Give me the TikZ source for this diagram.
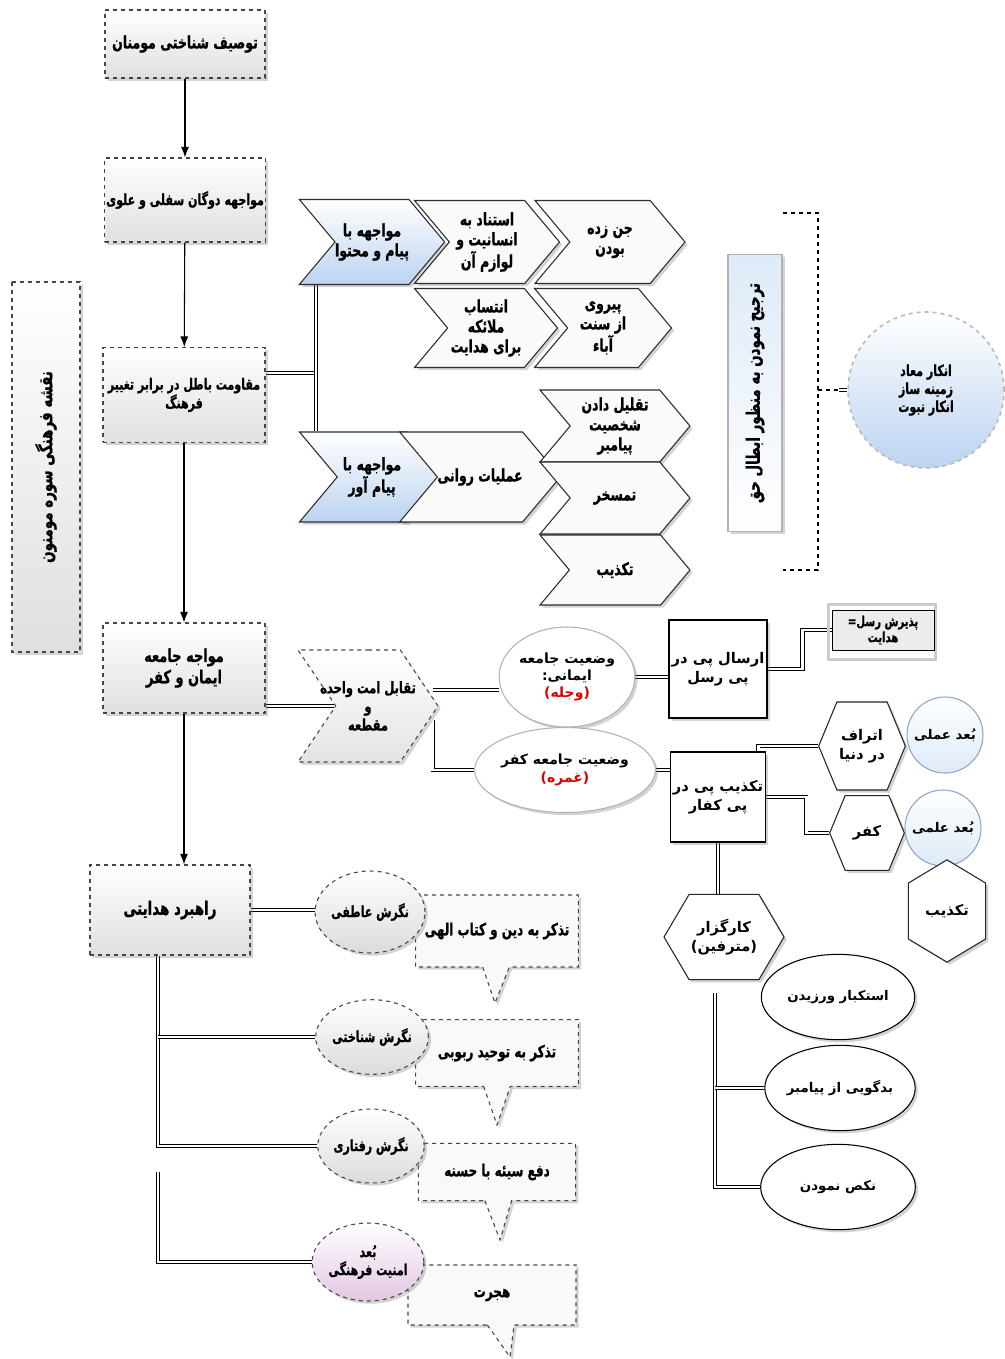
\documentclass[tikz,border=0pt]{standalone}
\usepackage{fontspec}
\newfontfamily\fa[Script=Arabic,FakeStretch=0.72,FakeBold=0.8]{DejaVu Sans}
\newfontfamily\fb[Script=Arabic]{DejaVu Sans}
\TeXXeTstate=1
\usetikzlibrary{shapes.geometric,shapes.symbols,shapes.callouts,shadows,calc,backgrounds,arrows.meta}
\newcommand\RL[1]{\beginR #1\endR}
\newcommand\fz[1]{\fontsize{#1}{#1}\selectfont}
\definecolor{lbA}{RGB}{222,234,248}
\definecolor{lbB}{RGB}{188,211,240}
\definecolor{lbC}{RGB}{140,165,205}
\tikzset{
  tA/.style={font=\fa\bfseries\fontsize{12}{14.5}\selectfont},
  tB/.style={font=\fa\bfseries\fontsize{11.5}{13.5}\selectfont},
  tG/.style={font=\fa\bfseries\fontsize{13}{15}\selectfont},
  tK/.style={font=\fa\bfseries\fontsize{12.5}{14}\selectfont},
  tC/.style={font=\fb\bfseries\fontsize{11}{14}\selectfont},
  tD/.style={font=\fb\bfseries\fontsize{10}{12.5}\selectfont},
  shd/.style={drop shadow={opacity=.35,shadow xshift=2pt,shadow yshift=-2pt}},
  mainbox/.style={draw=gray!55!black, dashed, thick, top color=white, bottom color=gray!25, shd, align=center, inner sep=1pt, tA},
  chev/.style={shape=signal, signal to=east, signal from=west, signal pointer angle=100, draw=gray!35!black, thick, fill=gray!4, shd, align=center, inner sep=0pt, tG},
  bluechev/.style={chev, top color=white, bottom color=lbB},
  hexa/.style={shape=signal, signal to=west and east, draw=gray!30!black, thick, fill=white, shd, align=center, inner sep=0pt},
  soft/.style={shape=ellipse, draw=gray!60, thick, fill=white, shd, align=center, inner sep=0pt},
  grey ell/.style={shape=ellipse, draw=gray!55!black, dashed, thick, top color=white, bottom color=gray!28, shd, align=center, inner sep=0pt, tB},
  callbox/.style={shape=rectangle callout, draw=gray!55!black, dashed, thick, fill=gray!5, shd, align=center, callout pointer width=20pt, tK},
  plainbox/.style={draw=black, thick, fill=white, shd, align=center, inner sep=2pt, tC},
  dbl/.style={draw=black, double=white, double distance=2pt, line width=.6pt},
  arr/.style={draw=black, thick, -{Latex[length=8pt,width=6pt]}},
}
\begin{document}
\begin{tikzpicture}[x=0.75pt,y=-0.75pt]
\path[use as bounding box] (0,0) rectangle (1004,1359);

% main column
\node[mainbox, minimum width=120pt, minimum height=51pt, font=\fa\bfseries\fz{13}] (b1) at (185,44) {\RL{توصیف شناختی مومنان}};
\node[mainbox, minimum width=120pt, minimum height=63pt, font=\fa\bfseries\fz{11.5}] (b2) at (185,200) {\RL{مواجهه دوگان سفلی و علوی}};
\node[mainbox, minimum width=121.5pt, minimum height=71pt, font=\fa\bfseries\fontsize{11.5}{14}\selectfont] (b3) at (184,395) {\RL{مقاومت باطل در برابر تغییر}\\\RL{فرهنگ}};
\node[mainbox, minimum width=121.5pt, minimum height=67.5pt, font=\fa\bfseries\fontsize{13.5}{16}\selectfont] (b4) at (184,668) {\RL{مواجه جامعه}\\\RL{ایمان و کفر}};
\node[mainbox, minimum width=120pt, minimum height=67.5pt, font=\fa\bfseries\fz{14}] (b5) at (170,910) {\RL{راهبرد هدایتی}};
\node[mainbox, rotate=90, minimum width=277.5pt, minimum height=51pt, font=\fa\bfseries\fz{14}] (lb) at (46,467) {\RL{نقشه فرهنگی سوره مومنون}};

\draw[arr] (b1) -- (b2);
\draw[arr] (b2) -- (b3);
\draw[arr] (b3) -- (b4);
\draw[arr] (b4.south) -- (b4.south |- b5.north);

% chevrons top group
\node[bluechev, minimum width=108.75pt, minimum height=63.75pt] (c1) at (372,242) {\RL{مواجهه با}\\\RL{پیام و محتوا}};
\node[chev, minimum width=108.75pt, minimum height=62.25pt] (c2) at (487,242) {\RL{استناد به}\\\RL{انسانیت و}\\\RL{لوازم آن}};
\node[chev, minimum width=112.5pt, minimum height=62.25pt] (c3) at (610,242) {\RL{جن زده}\\\RL{بودن}};
\node[chev, minimum width=107.25pt, minimum height=59.25pt] (c4) at (486,328) {\RL{انتساب}\\\RL{ملائکه}\\\RL{برای هدایت}};
\node[chev, minimum width=102.75pt, minimum height=59.25pt] (c5) at (603,328) {\RL{پیروی}\\\RL{از سنت}\\\RL{آباء}};

% chevrons bottom group
\node[bluechev, minimum width=108.75pt, minimum height=67.5pt] (c6) at (372,477) {\RL{مواجهه با}\\\RL{پیام آور}};
\node[chev, minimum width=105pt, minimum height=67.5pt] (c7) at (480,477) {\RL{عملیات روانی}};
\node[chev, minimum width=112.5pt, minimum height=54pt] (c8) at (615,426) {\RL{تقلیل دادن}\\\RL{شخصیت}\\\RL{پیامبر}};
\node[chev, minimum width=112.5pt, minimum height=54pt] (c9) at (615,498) {\RL{تمسخر}};
\node[chev, minimum width=112.5pt, minimum height=52.5pt] (c10) at (615,570) {\RL{تکذیب}};

\coordinate (sp) at (316,373);
\begin{scope}[on background layer]
\draw[dbl] (b3.east |- sp) -- (sp);
\draw[dbl] (c1.south -| sp) -- (c6.north -| sp);
\end{scope}

% blue vertical box, bracket, circle
\node[rotate=90, draw=gray!60, thick, top color=lbA, bottom color=white, shd, minimum width=208pt, minimum height=40.5pt, font=\fa\bfseries\fz{14}] (bv) at (755,393) {\RL{ترجیح نمودن به منظور ابطال حق}};
\node[circle, draw=gray!55, dashed, very thick, top color=white, bottom color=lbB, minimum size=117pt, align=center, inner sep=0pt, tB] (ci) at (926,390) {\RL{انکار معاد}\\\RL{زمینه ساز}\\\RL{انکار نبوت}};
\coordinate (brt) at (818,213);
\coordinate (brb) at (818,570);
\coordinate (brm) at (818,390);
\draw[dashed, line width=1.6pt] ($(brt)+(-35,0)$) -- (brt) -- (brb) -- ($(brb)+(-35,0)$);
\draw[dashed, line width=1.2pt] (brm) -- ($(ci.west)+(-8,0)$);
\draw[dbl] ($(ci.west)+(-8,0)$) -- (ci.west);

% middle
\node[chev, signal pointer angle=112, dashed, draw=gray!55!black, top color=white, bottom color=gray!22, minimum width=105pt, minimum height=84pt,
  label={[align=center, font=\fa\bfseries\fontsize{12}{14}\selectfont]center:{\RL{تقابل امت واحده}\\\RL{و}\\\RL{مقطعه}}}] (tq) at (368,706) {};
\node[soft, minimum width=91.5pt, minimum height=75pt, font=\fb\bfseries\fontsize{10.5}{13}\selectfont] (cr1) at (567,677) {\RL{وضعیت جامعه}\\\RL{ایمانی:}\\{\color{red!85!black}\RL{(وجله)}}};
\node[soft, minimum width=90pt, minimum height=63.75pt, font=\fb\bfseries\fontsize{10.5}{13}\selectfont] (cr2) at (565,770) {\RL{وضعیت جامعه کفر}\\{\color{red!85!black}\RL{(غمره)}}};
\node[plainbox, minimum width=69.75pt, minimum height=73.5pt] (ers) at (718,669) {\RL{ارسال پی در}\\\RL{پی رسل}};
\node[draw=gray!40, line width=2.5pt, minimum width=80pt, minimum height=41pt] (pzf) at (882,632) {};
\node[draw=black, fill=gray!15, minimum width=76.5pt, minimum height=30pt, align=center, inner sep=1pt, font=\fa\bfseries\fontsize{10.5}{12}\selectfont] (pz) at (883,630) {\RL{پذیرش رسل=}\\\RL{هدایت}};
\node[plainbox, minimum width=69.75pt, minimum height=67.5pt] (tk) at (718,797) {\RL{تکذیب پی در}\\\RL{پی کفار}};
\node[hexa, signal pointer angle=135, minimum width=65pt, minimum height=66pt, tC] (hx1) at (862,746) {\RL{اتراف}\\\RL{در دنیا}};
\node[hexa, signal pointer angle=135, minimum width=56pt, minimum height=56pt, tC] (hx2) at (867,833) {\RL{کفر}};
\node[circle, draw=lbC, thick, top color=white, bottom color=lbA, minimum size=57pt, inner sep=0pt, tD] (bA) at (945,735) {\RL{بُعد عملی}};
\node[circle, draw=lbC, thick, top color=white, bottom color=lbA, minimum size=57pt, inner sep=0pt, tD] (bB) at (943,828) {\RL{بُعد علمی}};
\node[hexa, signal to=north and south, signal pointer angle=118, minimum width=58pt, minimum height=61.5pt, tC] (hx3) at (947,911) {\RL{تکذیب}};
\node[hexa, signal pointer angle=119, minimum width=90pt, minimum height=64pt, tC] (hk) at (724,937) {\RL{کارگزار}\\\RL{(مترفین)}};
\node[soft, draw=black, minimum width=115pt, minimum height=64pt, tD] (e1) at (838,997) {\RL{استکبار ورزیدن}};
\node[soft, draw=black, minimum width=112.5pt, minimum height=64pt, tD] (e2) at (840,1088) {\RL{بدگویی از پیامبر}};
\node[soft, draw=black, minimum width=116pt, minimum height=64pt, tD] (e3) at (838,1187) {\RL{نکص نمودن}};

\coordinate (t1) at ($(tq.east)+(-6,-16)$);
\coordinate (t2) at ($(tq.east)+(-6,14)$);
\coordinate (ks) at (715,993);
\begin{scope}[on background layer]
\draw[dbl] (b4.east |- tq.west) -- (tq.west);
\draw[dbl] (t1) -- (t1 -| cr1.west);
\draw[dbl] (t2) |- (cr2.west);
\draw[dbl] (cr1.east) -- (ers.west |- cr1.east);
\draw[dbl] (ers.east) -- ++(35,0) |- (pz.west);
\draw[dbl] (cr2.east) -- ++(25,0) |- (tk.west);
\draw[dbl] ($(tk.north east)+(-8,0)$) |- (hx1.west);
\draw[dbl] (tk.east) -- ++(40,0) |- (hx2.west);
\draw[dbl] (tk.south) -- (tk.south |- hk.north);
\draw[dbl] (ks) |- (e3.west);
\draw[dbl] (ks |- e2.west) -- (e2.west);
\end{scope}

% bottom-left
\node[callbox, minimum width=122pt, minimum height=54pt, callout absolute pointer={(495,1003)}] (k1) at (497,931) {\RL{تذکر به دین و کتاب الهی}};
\node[callbox, minimum width=122pt, minimum height=50pt, callout absolute pointer={(497,1125)}] (k2) at (497,1053) {\RL{تذکر به توحید ربوبی}};
\node[callbox, minimum width=118pt, minimum height=43pt, callout absolute pointer={(500,1240)}] (k3) at (497,1172) {\RL{دفع سیئه با حسنه}};
\node[callbox, minimum width=126pt, minimum height=45pt, callout absolute pointer={(510,1357)}] (k4) at (492,1295) {\RL{هجرت}};
\node[grey ell, minimum width=78pt, minimum height=61.5pt] (n1) at (370,912) {\RL{نگرش عاطفی}};
\node[grey ell, minimum width=78pt, minimum height=56pt] (n2) at (372,1037) {\RL{نگرش شناختی}};
\node[grey ell, minimum width=79.5pt, minimum height=55.5pt] (n3) at (371,1146) {\RL{نگرش رفتاری}};
\node[grey ell, top color=white, bottom color=violet!22, minimum width=78pt, minimum height=58.5pt] (n4) at (368,1262) {\RL{بُعد}\\\RL{امنیت فرهنگی}};

\coordinate (sp2) at (158,955);
\coordinate (sp3) at (158,1172);
\begin{scope}[on background layer]
\draw[dbl] (b5.east) -- (b5.east -| n1.west);
\draw[dbl] (sp2) |- (n3.west);
\draw[dbl] (sp2 |- n2.west) -- (n2.west);
\draw[dbl] (sp3) |- (n4.west);
\end{scope}
\end{tikzpicture}
\end{document}
